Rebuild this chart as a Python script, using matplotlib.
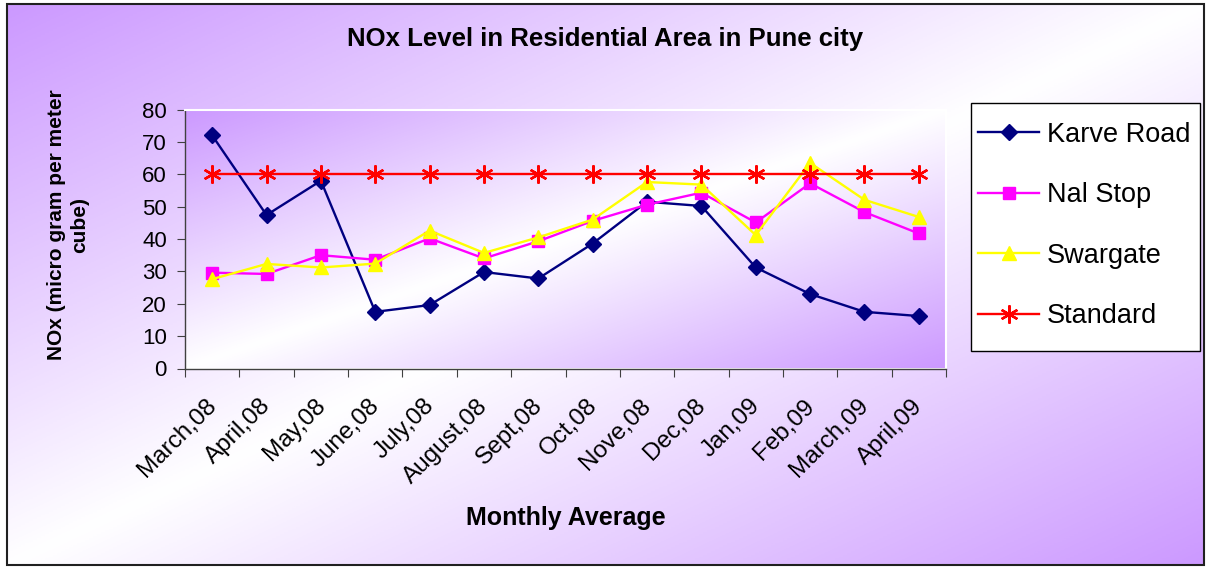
import numpy as np
import matplotlib
matplotlib.use("Agg")
import matplotlib.pyplot as plt
from matplotlib.colors import LinearSegmentedColormap
from matplotlib.patches import Rectangle
import matplotlib.transforms as mtransforms

plt.rcParams['font.family'] = ['Liberation Sans', 'DejaVu Sans']

months = ['March,08', 'April,08', 'May,08', 'June,08', 'July,08', 'August,08', 'Sept,08',
          'Oct,08', 'Nove,08', 'Dec,08', 'Jan,09', 'Feb,09', 'March,09', 'April,09']
karve_road = [72, 47.4, 58, 17.5, 19.6, 29.8, 27.8, 38.6, 51.5, 50.2, 31.2, 23.0, 17.5, 16.2]
nal_stop = [29.6, 29.2, 35.0, 33.6, 40.2, 34.0, 39.3, 45.6, 50.6, 54.3, 45.1, 57.2, 48.3, 41.7]
swargate = [27.6, 32.3, 31.2, 32.4, 42.6, 35.7, 40.5, 46.0, 57.6, 56.8, 41.2, 63.5, 52.1, 46.8]
standard = [60] * len(months)

purple = '#cc99ff'
cmap = LinearSegmentedColormap.from_list('lav', [purple, '#ffffff', purple])

def diag_gradient(n=300, m=300):
    u = np.linspace(0, 1, n)
    v = np.linspace(0, 1, m)
    U, V = np.meshgrid(u, v)
    return (U + V) / 2.0

W, H = 1207, 567
fig = plt.figure(figsize=(W / 100, H / 100), dpi=100)
fig.patch.set_facecolor('white')

# figure background gradient inside the border
bg = fig.add_axes([7 / W, 2 / H, 1197 / W, 561 / H], zorder=-5)
bg.imshow(diag_gradient(), cmap=cmap, aspect='auto', extent=[0, 1, 0, 1],
          origin='upper', interpolation='bilinear')
bg.set_axis_off()
fig.patches.append(Rectangle((7 / W, 2 / H), 1197 / W, 561 / H, transform=fig.transFigure,
                             fill=False, edgecolor='#202020', linewidth=1.5, zorder=10))

ax = fig.add_axes([185 / W, (H - 368.5) / H, 761 / W, 259 / H])
ax.imshow(diag_gradient(), cmap=cmap, aspect='auto', extent=[0, 1, 0, 1],
          origin='upper', transform=ax.transAxes, interpolation='bilinear', zorder=0)

x = np.arange(len(months))
ax.plot(x, karve_road, color='#000080', lw=1.7, marker='D', markersize=8.5, label='Karve Road', zorder=3)
ax.plot(x, nal_stop, color='#ff00ff', lw=1.7, marker='s', markersize=9, label='Nal Stop', zorder=4)
ax.plot(x, swargate, color='#ffff00', lw=1.7, marker='^', markersize=10.5, label='Swargate', zorder=5)
ax.plot(x, standard, color='#ff0000', lw=1.7, marker=(6, 2, 0), markersize=13, markeredgewidth=1.7,
        label='Standard', zorder=6)

ax.set_xlim(-0.5, len(months) - 0.5)
ax.set_ylim(0, 80)
ax.set_yticks(np.arange(0, 81, 10))
ax.set_xticks(np.arange(-0.5, len(months), 1.0))
ax.set_xticklabels([])
ax.set_xticks(x, minor=True)
ax.set_xticklabels(months, minor=True, rotation=45, ha='right', va='top',
                   rotation_mode='anchor', fontsize=17.5)
ax.tick_params(axis='x', which='minor', length=0, pad=19)
ax.tick_params(axis='x', which='major', length=6, direction='out', color='#404040')
ax.tick_params(axis='y', length=6, direction='out', color='#404040', labelsize=16, pad=7)
shift = mtransforms.ScaledTranslation(-7 / 100, 0, fig.dpi_scale_trans)
for lab in ax.xaxis.get_minorticklabels():
    lab.set_transform(lab.get_transform() + shift)

for s in ['left', 'bottom']:
    ax.spines[s].set_color('#404040')
    ax.spines[s].set_linewidth(1.0)
for s in ['top', 'right']:
    ax.spines[s].set_color('white')
    ax.spines[s].set_linewidth(1.5)

fig.text(605 / W, 1 - 39 / H, 'NOx Level in Residential Area in Pune city', ha='center', va='center',
         fontsize=18.5, fontweight='bold')
fig.text(566 / W, 1 - 518 / H, 'Monthly Average', ha='center', va='center',
         fontsize=18, fontweight='bold')
fig.text(68 / W, 1 - 225 / H, 'NOx (micro gram per meter\ncube)', ha='center', va='center',
         rotation=90, fontsize=15, fontweight='bold', multialignment='center', linespacing=1.25)

# legend box drawn separately, entries placed inside it
fig.patches.append(Rectangle((971 / W, 1 - 351 / H), 229 / W, 248 / H, transform=fig.transFigure,
                             facecolor='white', edgecolor='black', linewidth=1.0, zorder=8))
leg = fig.legend(loc='center left', bbox_to_anchor=(978 / W, 1 - 225.5 / H), fontsize=19.5,
                 frameon=False, handlelength=2.26, handletextpad=0.28, labelspacing=1.27,
                 borderpad=0, borderaxespad=0)
leg.set_zorder(9)

fig.savefig('out.png', dpi=100)
